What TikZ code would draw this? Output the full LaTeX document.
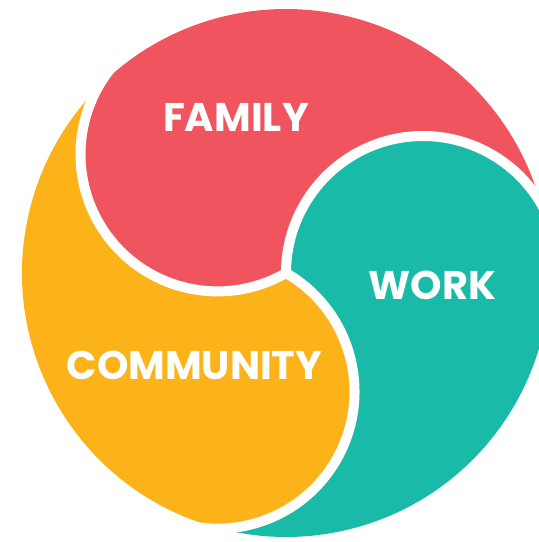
\documentclass[tikz,border=0pt]{standalone}
\usepackage{fontspec}
\setmainfont{Poppins}
\definecolor{famred}{HTML}{F0545E}
\definecolor{workteal}{HTML}{1ABAA8}
\definecolor{comyellow}{HTML}{FCB319}
\tikzset{
  gap/.style={draw=white, line width=10pt},
  label/.style={text=white, inner sep=0pt, font=\bfseries\fontsize{40}{40}\selectfont}
}
\begin{document}
\begin{tikzpicture}[x=1pt,y=1pt]
\useasboundingbox (-286,-269) rectangle (253,273);
% red piece (head at 120 deg)
\fill[famred] (0,0) arc[start angle=300, end angle=151.06, radius=137]
  arc[start angle=135.53, end angle=15.53, radius=264]
  arc[start angle=31.06, end angle=180, radius=137] -- cycle;
% teal piece (head at 0 deg)
\fill[workteal] (0,0) arc[start angle=180, end angle=31.06, radius=137]
  arc[start angle=15.53, end angle=-104.47, radius=264]
  arc[start angle=-88.94, end angle=60, radius=137] -- cycle;
% yellow piece (head at 240 deg)
\fill[comyellow] (0,0) arc[start angle=60, end angle=-88.94, radius=137]
  arc[start angle=255.53, end angle=135.53, radius=264]
  arc[start angle=151.06, end angle=300, radius=137] -- cycle;
% white separating curves
\coordinate (o) at (0,0);
\draw[gap] (o) arc[start angle=300, end angle=112, radius=137];
\draw[gap] (o) arc[start angle=180, end angle=-8, radius=137];
\draw[gap] (o) arc[start angle=60, end angle=-128, radius=137];
% labels
\node[label] (family) at (-50,155.5) {FAMILY};
\node[label] (work) at (146.5,-12) {WORK};
\node[label] (community) at (-91.5,-92) {COMMUNITY};
\end{tikzpicture}
\end{document}
